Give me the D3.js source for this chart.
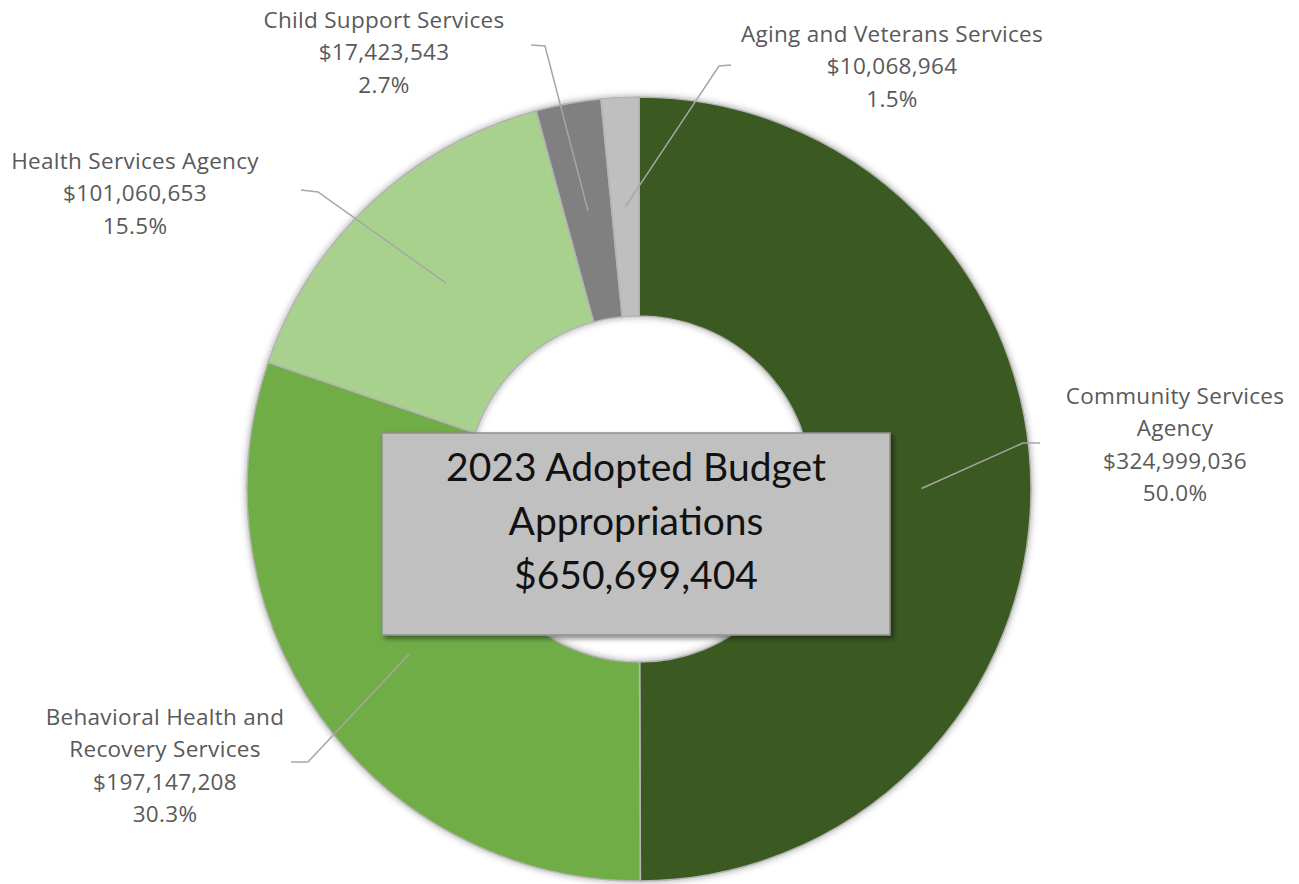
<!DOCTYPE html>
<html>
<head>
<meta charset="utf-8">
<script src="https://cdn.jsdelivr.net/npm/d3@7/dist/d3.min.js"></script>
<style>
  html, body { margin: 0; padding: 0; background: #ffffff; }
  svg { display: block; }
</style>
</head>
<body>
<svg id="chart" width="1299" height="884"></svg>
<script>
// Budget appropriations by department (clockwise from 12 o'clock)
const departments = [
  "Community Services Agency",
  "Behavioral Health and Recovery Services",
  "Health Services Agency",
  "Child Support Services",
  "Aging and Veterans Services"
];
const amounts = [324999036, 197147208, 101060653, 17423543, 10068964];
const shareLabels = ["50.0%", "30.3%", "15.5%", "2.7%", "1.5%"];
const labelLines = [
  ["Community Services", "Agency"],
  ["Behavioral Health and", "Recovery Services"],
  ["Health Services Agency"],
  ["Child Support Services"],
  ["Aging and Veterans Services"]
];
const sliceColors = ["#3a5a24", "#70ad47", "#a9d18e", "#808080", "#bfbfbf"];
const centerTitle = ["2023 Adopted Budget", "Appropriations"];

const svg = d3.select("#chart");
const cx = 639, cy = 489;
const outerR = 392, innerR = 173;

const total = d3.sum(amounts);
const money = d3.format("$,");

const defs = svg.append("defs");
const shadow = defs.append("filter").attr("id", "ringShadow")
  .attr("x", "-10%").attr("y", "-10%").attr("width", "120%").attr("height", "120%");
shadow.append("feDropShadow").attr("dx", 0).attr("dy", 0)
  .attr("stdDeviation", 3.5).attr("flood-color", "#000").attr("flood-opacity", 0.35);

const boxShadow = defs.append("filter").attr("id", "boxShadow")
  .attr("x", "-10%").attr("y", "-10%").attr("width", "120%").attr("height", "130%");
boxShadow.append("feDropShadow").attr("dx", 3).attr("dy", 3)
  .attr("stdDeviation", 2.5).attr("flood-color", "#000").attr("flood-opacity", 0.45);

const data = departments.map((name, i) => ({
  name, value: amounts[i], share: shareLabels[i], lines: labelLines[i], color: sliceColors[i]
}));

const pie = d3.pie().value(d => d.value).sort(null);
const arc = d3.arc().innerRadius(innerR).outerRadius(outerR);
const arcs = pie(data);

const g = svg.append("g").attr("transform", `translate(${cx},${cy})`);

g.append("g").attr("filter", "url(#ringShadow)")
  .selectAll("path").data(arcs).join("path")
  .attr("d", arc)
  .attr("fill", d => d.data.color)
  .attr("stroke", "#b4b4b4")
  .attr("stroke-width", 1.6)
  .attr("stroke-linejoin", "round");

// Callout layout: elbow and end of each leader, and label block position (relative to centre)
const callouts = {
  "Community Services Agency":               { elbow: [384, -46],  end: [401, -46],  tx: 536,  ty: -93 },
  "Behavioral Health and Recovery Services": { elbow: [-331, 273], end: [-348, 273], tx: -474, ty: 228 },
  "Health Services Agency":                  { elbow: [-321, -297], end: [-338, -299], tx: -504, ty: -328 },
  "Child Support Services":                  { elbow: [-94, -443], end: [-108, -444], tx: -255, ty: -469 },
  "Aging and Veterans Services":             { elbow: [80, -423],  end: [92, -424],  tx: 253,  ty: -455 }
};

const line = d3.line();
const lineH = 32.5;

arcs.forEach(a => {
  const c = callouts[a.data.name];
  const start = arc.centroid(a);
  g.append("path")
    .attr("d", line([start, c.elbow, c.end]))
    .attr("fill", "none")
    .attr("stroke", "#a6a6a6")
    .attr("stroke-width", 1.5);

  const rows = [...a.data.lines, money(a.data.value), a.data.share];
  const t = g.append("text")
    .attr("text-anchor", "middle")
    .attr("font-family", "'Open Sans', Lato, sans-serif")
    .attr("font-size", 22.5)
    .attr("letter-spacing", 0.3)
    .attr("fill", "#595959");
  rows.forEach((r, i) => {
    t.append("tspan").attr("x", c.tx).attr("y", c.ty + i * lineH).attr("dy", "0.35em").text(r);
  });
});

// Centre total box
const box = { x: 382 - cx, y: 433 - cy, w: 508, h: 202 };
g.append("rect")
  .attr("x", box.x).attr("y", box.y).attr("width", box.w).attr("height", box.h)
  .attr("fill", "#c0c0c0")
  .attr("stroke", "#8f8f8f")
  .attr("stroke-width", 1.5)
  .attr("filter", "url(#boxShadow)");

const titleRows = [...centerTitle, money(total)];
const title = g.append("text")
  .attr("text-anchor", "middle")
  .attr("font-family", "Lato, 'Open Sans', sans-serif")
  .attr("font-size", 39)
  .attr("fill", "#111111");
titleRows.forEach((r, i) => {
  title.append("tspan").attr("x", -3).attr("y", -22 + i * 54).attr("dy", "0.35em").text(r);
});
</script>
</body>
</html>
